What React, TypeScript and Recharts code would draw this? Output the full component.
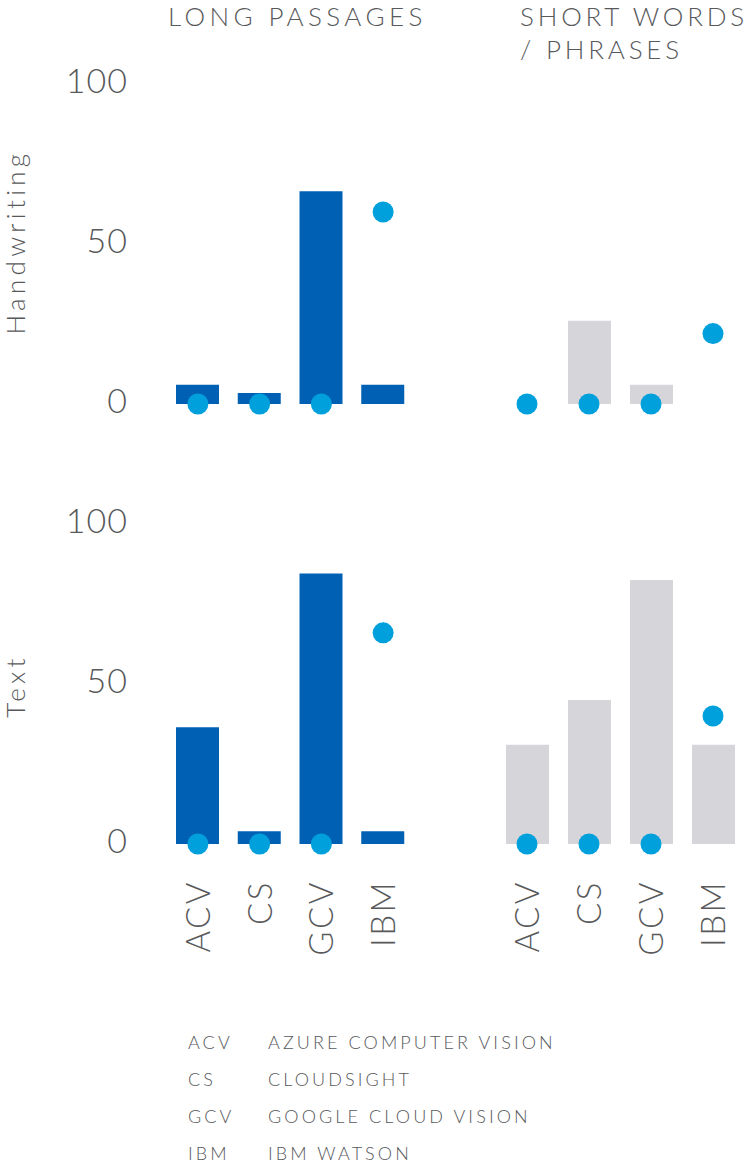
import React from 'react';
import { ComposedChart, Bar, Line, XAxis, YAxis } from 'recharts';

const categories = ['ACV', 'CS', 'GCV', 'IBM'];
const yTicks = [0, 50, 100];

const handLongBars = [6, 3.4, 66.5, 6];
const handLongDots = [0, 0, 0, 60];
const handShortBars = [0, 26, 6, 0];
const handShortDots = [0, 0, 0, 22];
const textLongBars = [36.5, 4, 84.5, 4];
const textLongDots = [0, 0, 0, 66];
const textShortBars = [31, 45, 82.5, 31];
const textShortDots = [0, 0, 0, 40];

const columnTitles = ['LONG PASSAGES', 'SHORT WORDS', '/ PHRASES'];
const rowTitles = ['Handwriting', 'Text'];
const legendAbbr = ['ACV', 'CS', 'GCV', 'IBM'];
const legendNames = ['AZURE COMPUTER VISION', 'CLOUDSIGHT', 'GOOGLE CLOUD VISION', 'IBM WATSON'];

const BLUE = '#0061b4';
const GRAY = '#d5d5da';
const DOT = '#00a0dc';
const TXT = '#58595b';
const FONT = "Lato, 'Open Sans', 'DejaVu Sans', sans-serif";

const YTick = (props: any) => {
  const { x, y, payload } = props;
  return (
    <text x={x} y={y - 3} dy="0.355em" textAnchor="end" fontSize={34} fontWeight={300} fill={TXT} fontFamily={FONT} letterSpacing={1}>
      {payload.value}
    </text>
  );
};

const XTick = (props: any) => {
  const { x, y, payload } = props;
  return (
    <text
      transform={`translate(${x},${y + 36}) rotate(-90)`}
      textAnchor="end"
      dy="0.36em"
      fontSize={33}
      fontWeight={300}
      fill={TXT}
      fontFamily={FONT}
      letterSpacing={2.5}
    >
      {payload.value}
    </text>
  );
};

type PanelProps = {
  bars: number[];
  dots: number[];
  color: string;
  showY: boolean;
  showX: boolean;
  width: number;
  marginLeft: number;
  marginRight: number;
};

const Panel = ({ bars, dots, color, showY, showX, width, marginLeft, marginRight }: PanelProps) => {
  const data = categories.map((c, i) => ({ cat: c, bar: bars[i], dot: dots[i] }));
  return (
    <ComposedChart
      width={width}
      height={showX ? 524 : 420}
      data={data}
      margin={{ top: 84, right: marginRight, left: marginLeft, bottom: showX ? 0 : 16 }}
    >
      <XAxis
        dataKey="cat"
        hide={!showX}
        axisLine={false}
        tickLine={false}
        tickSize={0}
        tickMargin={0}
        tick={<XTick />}
        height={120}
        interval={0}
      />
      <YAxis
        domain={[0, 100]}
        ticks={yTicks}
        hide={!showY}
        width={167}
        axisLine={false}
        tickLine={false}
        tickSize={0}
        tickMargin={39}
        tick={<YTick />}
      />
      <Bar dataKey="bar" fill={color} barSize={43} isAnimationActive={false} />
      <Line
        dataKey="dot"
        stroke="none"
        dot={{ r: 10.5, fill: DOT, stroke: 'none' }}
        activeDot={false}
        isAnimationActive={false}
      />
    </ComposedChart>
  );
};

export default function App() {
  return (
    <div style={{ position: 'absolute', left: 0, top: 0, width: 748, height: 1165, background: '#fff', overflow: 'hidden' }}>
      <svg width={748} height={1165} style={{ position: 'absolute', left: 0, top: 0 }}>
        <g fontFamily={FONT} fontWeight={300} fill={TXT}>
          <text x={168} y={26} fontSize={26} letterSpacing={4.4}>{columnTitles[0]}</text>
          <text x={520} y={26} fontSize={26} letterSpacing={3.8}>{columnTitles[1]}</text>
          <text x={520} y={59} fontSize={26} letterSpacing={3.8}>{columnTitles[2]}</text>
          <text transform="translate(25,242) rotate(-90)" textAnchor="middle" fontSize={26} letterSpacing={4.3}>{rowTitles[0]}</text>
          <text transform="translate(25,686) rotate(-90)" textAnchor="middle" fontSize={26} letterSpacing={4.3}>{rowTitles[1]}</text>
          {legendAbbr.map((a, i) => (
            <text key={a} x={188} y={1049 + i * 37} fontSize={18} letterSpacing={3.1}>{a}</text>
          ))}
          {legendNames.map((n, i) => (
            <text key={n} x={268} y={1049 + i * 37} fontSize={18} letterSpacing={3.1}>{n}</text>
          ))}
        </g>
      </svg>
      <div style={{ position: 'absolute', left: 0, top: 0 }}>
        <Panel bars={handLongBars} dots={handLongDots} color={BLUE} showY showX={false} width={420} marginLeft={0} marginRight={6} />
      </div>
      <div style={{ position: 'absolute', left: 480, top: 0 }}>
        <Panel bars={handShortBars} dots={handShortDots} color={GRAY} showY={false} showX={false} width={268} marginLeft={16} marginRight={4} />
      </div>
      <div style={{ position: 'absolute', left: 0, top: 440 }}>
        <Panel bars={textLongBars} dots={textLongDots} color={BLUE} showY showX width={420} marginLeft={0} marginRight={6} />
      </div>
      <div style={{ position: 'absolute', left: 480, top: 440 }}>
        <Panel bars={textShortBars} dots={textShortDots} color={GRAY} showY={false} showX width={268} marginLeft={16} marginRight={4} />
      </div>
    </div>
  );
}
